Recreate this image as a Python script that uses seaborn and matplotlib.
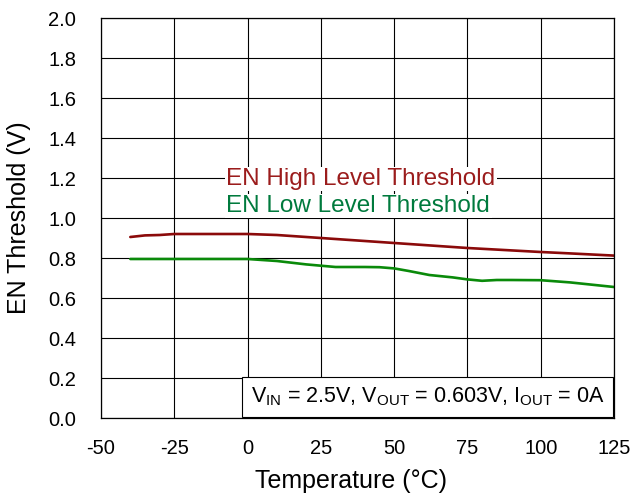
import matplotlib
matplotlib.use("Agg")
import matplotlib.pyplot as plt
import matplotlib.transforms as mtransforms
import seaborn as sns
import pandas as pd

temp_high = [-40, -35, -30, -25, -15, 0, 10, 25, 40, 50, 60, 75, 90, 100, 110, 125]
en_high = [0.905, 0.913, 0.915, 0.92, 0.92, 0.92, 0.915, 0.90, 0.885, 0.875, 0.865, 0.85, 0.838, 0.83, 0.823, 0.812]

temp_low = [-40, -30, -20, -10, 0, 10, 20, 30, 40, 45, 50, 55, 62, 70, 75, 80, 85, 90, 100, 110, 125]
en_low = [0.795, 0.795, 0.795, 0.795, 0.795, 0.785, 0.768, 0.755, 0.755, 0.754, 0.748, 0.735, 0.715, 0.703, 0.693, 0.686, 0.69, 0.69, 0.689, 0.678, 0.655]

x_ticks = [-50, -25, 0, 25, 50, 75, 100, 125]
y_ticks = [0.0, 0.2, 0.4, 0.6, 0.8, 1.0, 1.2, 1.4, 1.6, 1.8, 2.0]

sns.set_theme(style="white")
plt.rcParams['font.family'] = ['Liberation Sans', 'DejaVu Sans']
plt.rcParams['mathtext.fontset'] = 'custom'
plt.rcParams['mathtext.rm'] = 'Liberation Sans'
plt.rcParams['mathtext.it'] = 'Liberation Sans'

df_high = pd.DataFrame({"T": temp_high, "V": en_high})
df_low = pd.DataFrame({"T": temp_low, "V": en_low})

fig = plt.figure(figsize=(6.33, 4.98), dpi=100)
ax = fig.add_axes([101/633, 80/498, 513/633, 400/498])

sns.lineplot(data=df_high, x="T", y="V", ax=ax, color="#8B0A0A", linewidth=1.9)
sns.lineplot(data=df_low, x="T", y="V", ax=ax, color="#0A8A0A", linewidth=1.9)

ax.set_xlim(-50, 125)
ax.set_ylim(0, 2.0)
ax.set_xticks(x_ticks)
ax.set_yticks(y_ticks)
ax.set_xticklabels([str(t) for t in x_ticks], fontsize=14.5, color="black")
ax.set_yticklabels([f"{v:.1f}" for v in y_ticks], fontsize=14.5, color="black")
ax.tick_params(axis='x', length=0, pad=15)
ax.tick_params(axis='y', length=0, pad=18)
ax.grid(True, color="black", linewidth=0.8)
for s in ax.spines.values():
    s.set_color("black")
    s.set_linewidth(0.9)

ax.set_xlabel("Temperature (°C)", fontsize=18, color="black", labelpad=8)
ax.xaxis.label.set_x(0.487)
ax.set_ylabel("EN Threshold (V)", fontsize=18, color="black", labelpad=12)

ax.text(-7.2, 1.195, "EN High Level Threshold", fontsize=17.5, color="#9B1C1C",
        ha="left", va="center",
        bbox=dict(facecolor="white", edgecolor="none", pad=1))
ax.text(-7.2, 1.06, "EN Low Level Threshold", fontsize=17.5, color="#007A3D",
        ha="left", va="center",
        bbox=dict(facecolor="white", edgecolor="none", pad=1))

fs = 15.5
pad_frac = 0.4
pad_px = pad_frac * fs * 100 / 72
tr = mtransforms.offset_copy(ax.transAxes, fig=fig, x=-pad_px - 1, y=pad_px + 1, units='dots')
ax.text(1.0, 0.0, r"V$_{\mathrm{IN}}$ = 2.5V, V$_{\mathrm{OUT}}$ = 0.603V, I$_{\mathrm{OUT}}$ = 0A",
        transform=tr, fontsize=fs, color="black", ha="right", va="bottom",
        bbox=dict(facecolor="white", edgecolor="black", linewidth=0.8,
                  boxstyle=f"square,pad={pad_frac}"))

fig.savefig("out.png", dpi=100)
